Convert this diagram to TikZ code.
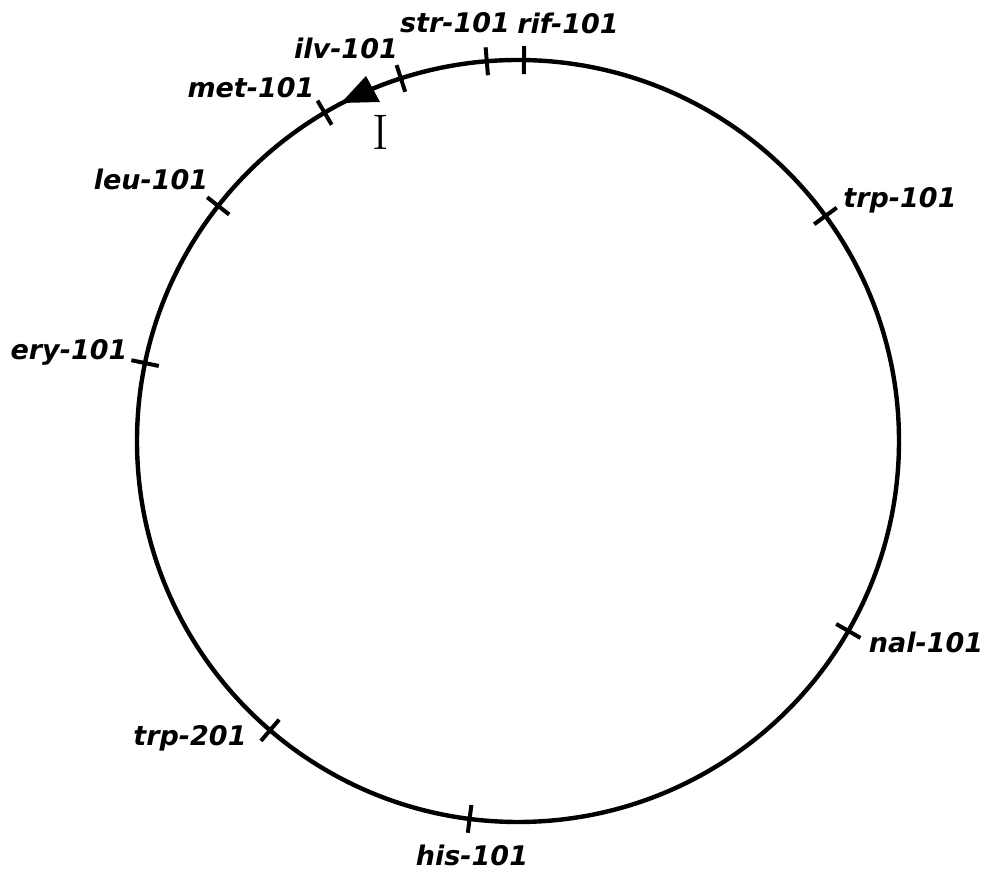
\documentclass[tikz,border=0pt]{standalone}
\usepackage{fontspec}
\newfontfamily\lab{DejaVu Sans}
\usetikzlibrary{calc}
\tikzset{
  ring/.style={line width=4.4pt},
  tickmark/.style={line width=4pt},
  genelabel/.style={inner sep=0pt, font=\lab\bfseries\itshape\fontsize{27}{31}\selectfont},
}
\newcommand{\gtick}[2]{\draw[tickmark] ($(C)+(#1:367)$) coordinate (#2a) -- ($(C)+(#1:395)$) coordinate (#2b);}
\begin{document}
\begin{tikzpicture}[x=1pt,y=1pt]
\useasboundingbox (0,0) rectangle (991,874);
\coordinate (C) at (518,433);
\draw[ring] (C) circle (381);
% ticks
\gtick{89.1}{rif}
\gtick{94.7}{str}
\gtick{107.9}{ilv}
\gtick{120.5}{met}
\gtick{141.9}{leu}
\gtick{168.2}{ery}
\gtick{229.4}{trpb}
\gtick{262.7}{his}
\gtick{330.1}{nal}
\gtick{36.2}{trpa}
% arrow
\coordinate (tip) at (341,771);
\coordinate (b1) at (366,798);
\coordinate (b2) at (380,772);
\fill (tip) -- (b1) -- (b2) -- cycle;
\node[inner sep=0pt, font=\fontsize{50}{54}\selectfont] (one) at (381,742) {I};
% labels
\node[genelabel] (lrif) at (568,851) {rif-101};
\node[genelabel] (lstr) at (455,851) {str-101};
\node[genelabel] (lilv) at (346,826) {ilv-101};
\node[genelabel] (lmet) at (251,786) {met-101};
\node[genelabel] (lleu) at (151,695) {leu-101};
\node[genelabel] (lery) at (69,522) {ery-101};
\node[genelabel] (ltrpb) at (190,136) {trp-201};
\node[genelabel] (lhis) at (472,19) {his-101};
\node[genelabel] (lnal) at (926,232) {nal-101};
\node[genelabel] (ltrpa) at (900,674) {trp-101};
\end{tikzpicture}
\end{document}
